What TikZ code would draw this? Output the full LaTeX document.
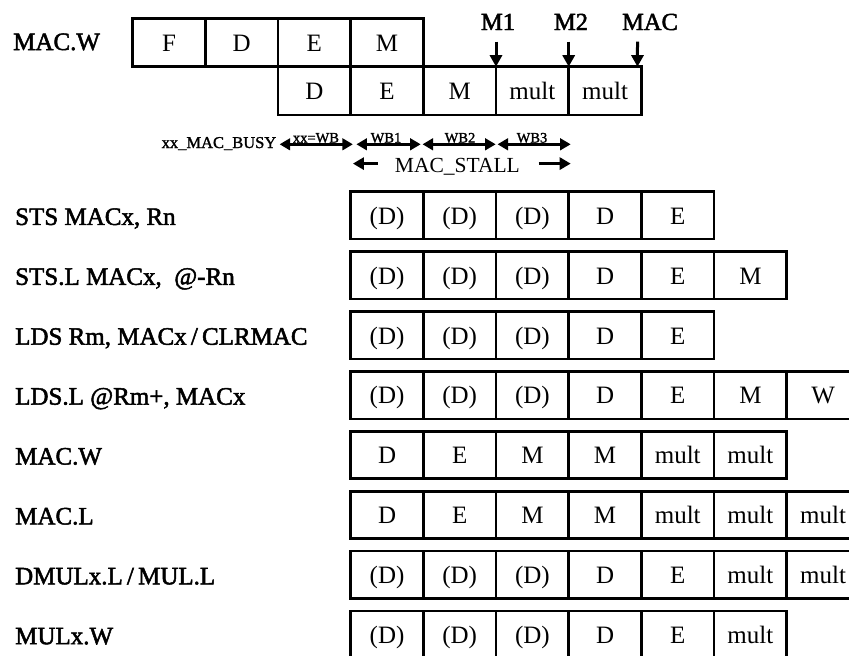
\documentclass[tikz,border=0pt]{standalone}
\usepackage{fontspec}
\setmainfont{Liberation Serif}
\newfontfamily\labfont{Liberation Serif}[FakeBold=2]
\newfontfamily\smallfont{Liberation Serif}[FakeBold=1.5]
\usetikzlibrary{arrows.meta}
\begin{document}
\begin{tikzpicture}[x=1pt,y=-1pt,
  cell/.style={draw, line width=2.6pt, minimum width=72.67pt, minimum height=#1,
    inner sep=0pt, outer sep=0pt, anchor=north west, text height=22pt, text depth=4.4pt,
    font=\fontsize{25}{30}\selectfont},
  cell/.default=47.4pt,
  rowlabel/.style={anchor=base west, inner sep=0pt, font=\labfont\fontsize{25}{30}\selectfont},
  stage/.style={anchor=base, inner sep=0pt, font=\labfont\fontsize{24.5}{30}\selectfont},
  tick/.style={line width=3pt, -{Triangle[length=11.5pt,width=12pt]}},
  span/.style={line width=3pt, {Triangle[length=10.5pt,width=11.5pt]}-{Triangle[length=10.5pt,width=11.5pt]}},
  oneway/.style={line width=3pt, -{Triangle[length=11pt,width=12pt]}},
  small/.style={anchor=base, inner sep=0pt, font=\smallfont\fontsize{14.5}{17}\selectfont},
]
\useasboundingbox (0,0) rectangle (849,656);

% ---- top: MAC.W pipeline ----
\node[rowlabel] (toplab) at (13,50) {MAC.W};
\node[cell=48.4pt] (t1-0) at (132.7,18.3) {F};
\node[cell=48.4pt] (t1-1) at (205.4,18.3) {D};
\node[cell=48.4pt] (t1-2) at (278.0,18.3) {E};
\node[cell=48.4pt] (t1-3) at (350.7,18.3) {M};
\node[cell=48.4pt] (t2-2) at (278.0,66.7) {D};
\node[cell=48.4pt] (t2-3) at (350.7,66.7) {E};
\node[cell=48.4pt] (t2-4) at (423.4,66.7) {M};
\node[cell=48.4pt] (t2-5) at (496.0,66.7) {mult};
\node[cell=48.4pt] (t2-6) at (568.7,66.7) {mult};

\node[stage] (m1) at (498,30) {M1};
\node[stage] (m2) at (571,30) {M2};
\node[stage] (mac) at (650,30) {MAC};
\coordinate (m1s) at (496.0,41.7);
\coordinate (m2s) at (568.7,41.7);
\coordinate (macs) at (637.5,41.7);
\draw[tick] (m1s) -- (t2-5.north west);
\draw[tick] (m2s) -- (t2-6.north west);
\draw[tick] (macs) -- ([xshift=-3.9pt]t2-6.north east);

% ---- busy / write-back spans ----
\node[anchor=base east, inner sep=0pt, font=\smallfont\fontsize{16.5}{20}\selectfont] (busy) at (276.5,148) {xx\_MAC\_BUSY};
\coordinate (s0a) at (279.6,144.3); \coordinate (s0b) at (352.9,144.3);
\coordinate (s1a) at (356.4,144.3); \coordinate (s1b) at (420.7,144.3);
\coordinate (s2a) at (422.5,144.3); \coordinate (s2b) at (495.7,144.3);
\coordinate (s3a) at (497.5,144.3); \coordinate (s3b) at (570.7,144.3);
\draw[span] (s0a) -- (s0b);
\draw[span] (s1a) -- (s1b);
\draw[span] (s2a) -- (s2b);
\draw[span] (s3a) -- (s3b);
\node[small] (wb0) at (316,142.5) {xx=WB};
\node[small] (wb1) at (386,142.5) {WB1};
\node[small] (wb2) at (460,142.5) {WB2};
\node[small] (wb3) at (532,142.5) {WB3};

\node[anchor=base, inner sep=0pt, font=\fontsize{21.5}{25}\selectfont] (stall) at (457.4,172) {MAC\_STALL};
\coordinate (stl) at (377.9,163.6); \coordinate (stlh) at (352.9,163.6);
\coordinate (str) at (538.6,163.6); \coordinate (strh) at (570.7,163.6);
\draw[oneway] (stl) -- (stlh);
\draw[oneway] (str) -- (strh);

% ---- instruction rows ----
\foreach \i/\lab/\cells in {
  1/{STS MACx, Rn}/{{(D)},{(D)},{(D)},D,E},
  2/{STS.L MACx,\ \ @-Rn}/{{(D)},{(D)},{(D)},D,E,M},
  3/{LDS Rm, MACx\,/\,CLRMAC}/{{(D)},{(D)},{(D)},D,E},
  4/{LDS.L @Rm+, MACx}/{{(D)},{(D)},{(D)},D,E,M,W},
  5/{MAC.W}/{D,E,M,M,mult,mult},
  6/{MAC.L}/{D,E,M,M,mult,mult,mult},
  7/{DMULx.L\,/\,MUL.L}/{{(D)},{(D)},{(D)},D,E,mult,mult},
  8/{MULx.W}/{{(D)},{(D)},{(D)},D,E,mult}%
}{
  \pgfmathsetmacro\ytop{191.7+59.9*(\i-1)}
  \node[rowlabel] (lab\i) at (15,\ytop+33.2) {\lab};
  \foreach \c [count=\k from 3] in \cells {
    \pgfmathsetmacro\xl{132.7+72.67*\k}
    \node[cell] (r\i-\k) at (\xl,\ytop) {\c};
  }
}
\end{tikzpicture}
\end{document}
